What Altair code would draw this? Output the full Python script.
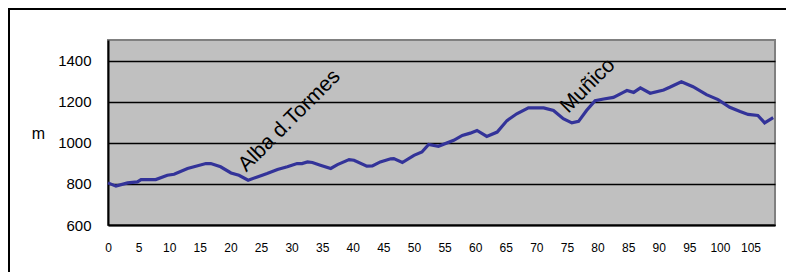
import altair as alt
import pandas as pd

# distance (km) and elevation (m) read from the profile
km = [0, 1.3, 3.2, 4.8, 5.4, 7.8, 9.7, 10.8, 13, 16, 16.8, 18.4, 20.1, 21.4, 22.9,
      24.4, 26, 27.7, 29.3, 30.9, 31.7, 32.6, 33.4, 34.7, 36.4, 37.5, 39.4, 40.2,
      42.3, 43.2, 44.5, 46.2, 46.7, 48.1, 50, 51.3, 52.4, 54, 56.5, 57.9, 59.2,
      60.3, 61.9, 63.6, 65.2, 66.8, 68.7, 71.2, 72.8, 74.4, 75.8, 76.9, 78.2,
      79.6, 81, 82.6, 84.2, 84.8, 85.9, 87, 88.6, 90.8, 91.8, 93.7, 95.6, 97.8,
      99.7, 101.6, 103.3, 104.6, 106.2, 107.3, 108.7]
elev = [805, 789, 805, 810, 821, 821, 842, 847, 875, 899, 899, 883, 853, 842, 818,
        834, 850, 870, 883, 899, 899, 907, 904, 891, 875, 894, 918, 915,
        886, 887, 907, 922, 923, 904, 939, 955, 992, 983, 1012, 1036, 1047,
        1060, 1031, 1052, 1108, 1141, 1170, 1170, 1157, 1117, 1097, 1104, 1157,
        1205, 1213, 1221, 1245, 1254, 1245, 1267, 1241, 1257, 1270, 1297, 1273, 1234,
        1210, 1173, 1152, 1138, 1133, 1097, 1122]

place_names = ["Alba d.Tormes", "Muñico"]
place_km = [22.6, 75.2]
place_elev = [855, 1140]

y_ticks = [600, 800, 1000, 1200, 1400]
x_ticks = list(range(0, 110, 5))

FONT = "Liberation Sans"

profile = pd.DataFrame({"km": km, "elev": elev})
places = pd.DataFrame({"name": place_names, "km": place_km, "elev": place_elev})

xs = alt.Scale(domain=[0, 109], nice=False, zero=False)
ys = alt.Scale(domain=[600, 1500], nice=False, zero=False)

x_axis = alt.Axis(values=x_ticks, format="d", title=None, grid=False,
                  ticks=False, tickSize=0, labelOverlap=False,
                  domain=True, domainColor="black", domainWidth=2,
                  labelFont=FONT, labelFontSize=12, labelColor="black",
                  labelPadding=17, labelFlush=False)
y_axis = alt.Axis(values=y_ticks, format="d", title="m", grid=True,
                  gridColor="black", gridWidth=1.7, ticks=False, tickSize=0,
                  labelOverlap=False, domain=True,
                  domainColor="black", domainWidth=2,
                  labelFont=FONT, labelFontSize=15, labelColor="black",
                  labelPadding=17, labelFlush=False,
                  titleAngle=0, titleFont=FONT, titleFontSize=16,
                  titleFontWeight="normal", titleColor="black",
                  titleX=-70, titleY=93, titleAlign="center",
                  titleBaseline="middle")

line = alt.Chart(profile).mark_line(color="#333399", strokeWidth=3.2).encode(
    x=alt.X("km:Q", scale=xs, axis=x_axis),
    y=alt.Y("elev:Q", scale=ys, axis=y_axis),
)

labels = alt.Chart(places).mark_text(
    angle=315, align="left", baseline="alphabetic", font=FONT, fontSize=21,
    color="black"
).encode(x=alt.X("km:Q", scale=xs, axis=x_axis),
         y=alt.Y("elev:Q", scale=ys, axis=y_axis), text="name:N")

# outer frame (left and top edges, as close to the page corner as the margin allows)
frame_left = alt.Chart(places).mark_rule(color="black", strokeWidth=2).encode(
    x=alt.value(-99), y=alt.value(-31), y2=alt.value(240))
frame_top = alt.Chart(places).mark_rule(color="black", strokeWidth=2).encode(
    x=alt.value(-100), x2=alt.value(690), y=alt.value(-31))

chart = alt.layer(line, labels, frame_left, frame_top).properties(
    width=667, height=185,
    autosize=alt.AutoSizeParams(type="none"),
    padding={"left": 100, "top": 32, "right": 11, "bottom": 47},
    background="white",
).configure_view(fill="#C0C0C0", stroke="#808080", strokeWidth=2)

chart.save("out.html", embed_options={"renderer": "svg", "actions": False})
